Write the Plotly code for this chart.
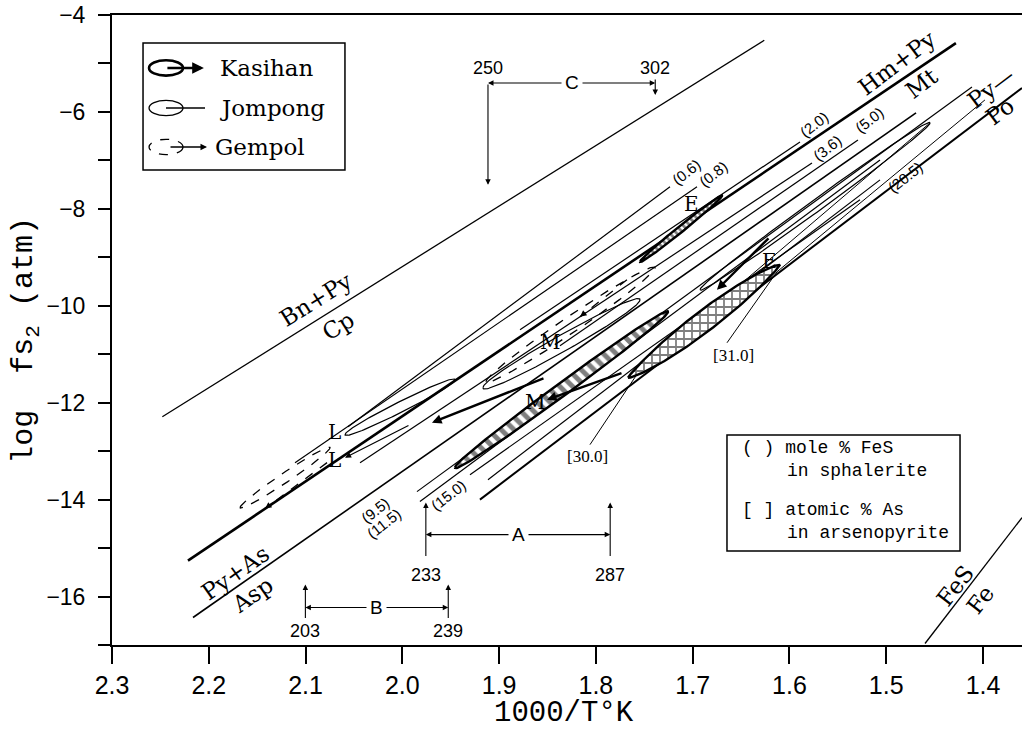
import numpy as np
import plotly.graph_objects as go

# ---------------- data (x = 1000/T(K), y = log fS2) ----------------
bnpy_x = [2.248, 1.626]
bnpy_y = [-12.29, -4.52]
hmpy_x = [2.2215, 1.428]
hmpy_y = [-15.26, -4.58]
asp_x = [2.2163, 1.4692]
asp_y = [-16.433, -6.021]
pypo_x = [1.9198, 1.3597]
pypo_y = [-14.0, -5.505]
fes_x = [1.4599, 1.3597]
fes_y = [-16.969, -14.371]

# sphalerite isopleths (mole % FeS)
iso_names = ["(0.6)", "(0.8)", "(2.0)", "(3.6)", "(5.0)", "(9.5)", "(11.5)", "(15.0)", "(20.5)"]
iso_x0 = [2.0561, 2.1109, 1.8784, 2.0437, 1.8371, 1.9849, 1.9818, 1.9301, 1.9115]
iso_y0 = [-12.495, -13.237, -10.495, -13.237, -10.825, -13.835, -14.041, -13.485, -13.588]
iso_x1 = [1.7234, 1.6955, 1.5891, 1.5767, 1.5292, 1.4114, 1.5064, 1.5271, 1.5064]
iso_y1 = [-7.546, -7.546, -6.619, -7.052, -6.577, -5.485, -6.990, -7.814, -7.402]
iso_lx = [1.7059, 1.678, 1.5746, 1.5602, 1.5168, 2.0282, 2.019, 1.9528, 1.4806]
iso_ly = [-7.237, -7.278, -6.268, -6.742, -6.165, -14.227, -14.495, -13.918, -7.361]

# arsenopyrite isopleths (atomic % As)
apy30_x = [1.8061, 1.7544, 1.4548]
apy30_y = [-12.866, -11.320, -6.227]
apy31_x = [1.6645, 1.6129, 1.398]
apy31_y = [-10.763, -9.299, -5.753]
apy_names = ["[30.0]", "[31.0]"]
apy_lx = [1.8082, 1.6583]
apy_ly = [-13.113, -11.031]

# fluid-inclusion fields (end points and half width)
kas_x0 = [1.9456, 1.7668, 1.7544]
kas_y0 = [-13.340, -11.485, -9.093]
kas_x1 = [1.7255, 1.6098, 1.6697]
kas_y1 = [-10.124, -9.155, -7.732]
kas_hw = [0.165, 0.27, 0.08]
jom_x0 = [2.0592, 1.9167, 1.6924]
jom_y0 = [-12.660, -11.691, -9.670]
jom_x1 = [1.9456, 1.7544, 1.4548]
jom_y1 = [-11.526, -9.876, -6.227]
jom_hw = [0.12, 0.19, 0.15]
gem_x0 = [2.1677, 1.9136]
gem_y0 = [-14.165, -11.567]
gem_x1 = [2.0747, 1.7389]
gem_y1 = [-12.928, -9.216]
gem_hw = [0.12, 0.2]

# trend arrows (tail -> head)
kar_tx = [1.772, 1.8526, 1.6201]
kar_ty = [-11.381, -11.485, -8.577]
kar_hx = [1.8505, 1.9694, 1.6749]
kar_hy = [-11.938, -12.412, -9.670]
jar_tx = [1.9921]
jar_ty = [-12.454]
jar_hx = [2.0592]
jar_hy = [-13.134]
gar_tx = [2.0778, 1.7679]
gar_ty = [-13.237, -9.464]
gar_hx = [2.1419, 1.8164]
gar_hy = [-14.186, -10.227]

# temperature ranges (deg C)
rng_names = ["A", "B", "C"]
rng_t0 = [233, 203, 250]
rng_t1 = [287, 239, 302]
rng_bar_y = [-14.722, -16.227, -5.402]
rng_v0_tail = [-15.196, -16.474, -5.402]
rng_v0_head = [-14.062, -15.753, -7.505]
rng_v1_tail = [-15.196, -16.474, -5.30]
rng_v1_head = [-14.062, -15.753, -5.65]
rng_lab_y = [-15.55, -16.72, -5.09]

# field labels
reg_text = ["Bn+Py", "Cp", "Hm+Py", "Mt", "Py—", "Po", "Py+As", "Asp", "FeS", "Fe"]
reg_x = [2.0902, 2.0665, 1.4889, 1.463, 1.392, 1.382, 2.1729, 2.1553, 1.429, 1.4031]
reg_y = [-9.876, -10.412, -4.990, -5.402, -5.50, -5.99, -15.505, -15.959, -15.773, -16.062]
reg_ang = [-32, -32, -37, -37, -37, -37, -35, -35, -52, -52]

pt_text = ["E", "E", "M", "M", "L", "L"]
pt_x = [1.7007, 1.6211, 1.8474, 1.8629, 2.0696, 2.0696]
pt_y = [-7.897, -9.072, -10.742, -11.979, -12.598, -13.175]

x_ticks = [2.3, 2.2, 2.1, 2.0, 1.9, 1.8, 1.7, 1.6, 1.5, 1.4]
y_ticks = [-16, -14, -12, -10, -8, -6, -4]
y_minor = [-17, -15, -13, -11, -9, -7, -5]

SERIF = "DejaVu Serif"
SANS = "Liberation Sans"
MONO = "Liberation Mono"

fig = go.Figure()


def add_line(x, y, width=1.3, dash="solid"):
    fig.add_trace(go.Scatter(x=x, y=y, mode="lines",
                             line=dict(color="black", width=width, dash=dash),
                             hoverinfo="skip", showlegend=False))


def lens(x0, y0, x1, y1, hw, n=90, p=1.0):
    t = np.linspace(0, np.pi, n)
    u = (1 - np.cos(t)) / 2
    w = hw * np.sin(t) ** p
    xs = x0 + (x1 - x0) * u
    ys = y0 + (y1 - y0) * u
    X = np.concatenate([xs, xs[::-1], xs[:1]])
    Y = np.concatenate([ys + w, (ys - w)[::-1], ys[:1] + w[:1]])
    return X, Y


def arrow(xh, yh, xt, yt, width=1.2, size=1.0, head=2):
    fig.add_annotation(x=xh, y=yh, ax=xt, ay=yt, xref="x", yref="y",
                       axref="x", ayref="y", text="", showarrow=True,
                       arrowhead=head, arrowsize=size, arrowwidth=width,
                       arrowcolor="black")


def label(x, y, text, font, angle=0, xanchor="center", ref="data", **kw):
    extra = {} if ref == "data" else dict(xref="paper", yref="paper")
    fig.add_annotation(x=x, y=y, text=text, showarrow=False, textangle=angle,
                       xanchor=xanchor, yanchor="middle", font=font, **extra, **kw)


# boundary lines
add_line(bnpy_x, bnpy_y, 1.3)
add_line(hmpy_x, hmpy_y, 2.6)
add_line(asp_x, asp_y, 1.6)
add_line(pypo_x, pypo_y, 2.0)
add_line(fes_x, fes_y, 1.3)

for i in range(len(iso_names)):
    add_line([iso_x0[i], iso_x1[i]], [iso_y0[i], iso_y1[i]], 1.2)
    label(iso_lx[i], iso_ly[i], iso_names[i],
          dict(family=SANS, size=15, color="black"), angle=-38)

add_line(apy30_x, apy30_y, 1.0)
add_line(apy31_x, apy31_y, 1.0)
for i in range(2):
    label(apy_lx[i], apy_ly[i], apy_names[i],
          dict(family="Liberation Serif", size=17, color="black"))

# Jompong fields (thin solid)
for i in range(len(jom_x0)):
    X, Y = lens(jom_x0[i], jom_y0[i], jom_x1[i], jom_y1[i], jom_hw[i], p=0.9)
    add_line(X, Y, 1.2)

# Gempol fields (dashed)
for i in range(len(gem_x0)):
    X, Y = lens(gem_x0[i], gem_y0[i], gem_x1[i], gem_y1[i], gem_hw[i])
    add_line(X, Y, 1.3, "dash")

# Kasihan fields (thick, hatched)
kas_pat = [dict(shape="\\", size=9, solidity=0.55),
           dict(shape="+", size=8, solidity=0.4),
           dict(shape="\\", size=5, solidity=0.55)]
kas_p = [0.9, 1.5, 1.0]
for i in range(len(kas_x0)):
    X, Y = lens(kas_x0[i], kas_y0[i], kas_x1[i], kas_y1[i], kas_hw[i], p=kas_p[i])
    pat = dict(fgcolor="black", bgcolor="white", **kas_pat[i])
    fig.add_trace(go.Scatter(x=X, y=Y, mode="lines", fill="toself",
                             fillcolor="white", fillpattern=pat,
                             line=dict(color="black", width=2.4),
                             hoverinfo="skip", showlegend=False))

# trend arrows
for i in range(len(kar_tx)):
    arrow(kar_hx[i], kar_hy[i], kar_tx[i], kar_ty[i], width=2.4, size=0.8)
for i in range(len(jar_tx)):
    arrow(jar_hx[i], jar_hy[i], jar_tx[i], jar_ty[i], width=1.2, size=1.0)
for i in range(len(gar_tx)):
    add_line([gar_tx[i], gar_hx[i]], [gar_ty[i], gar_hy[i]], 1.3, "dash")
    arrow(gar_hx[i], gar_hy[i],
          gar_hx[i] + 0.15 * (gar_tx[i] - gar_hx[i]),
          gar_hy[i] + 0.15 * (gar_ty[i] - gar_hy[i]), width=1.3, size=1.0)

# temperature ranges
for i in range(3):
    xa = 1000.0 / (rng_t0[i] + 273.15)
    xb = 1000.0 / (rng_t1[i] + 273.15)
    xm = (xa + xb) / 2
    yb = rng_bar_y[i]
    arrow(xa, yb, xm, yb, width=1.1, size=1.0)
    arrow(xb, yb, xm, yb, width=1.1, size=1.0)
    arrow(xa, rng_v0_head[i], xa, rng_v0_tail[i], width=1.1, size=1.0)
    arrow(xb, rng_v1_head[i], xb, rng_v1_tail[i], width=1.1, size=1.0)
    label(xm, yb, rng_names[i], dict(family=SANS, size=19, color="black"),
          bgcolor="white", borderpad=3)
    label(xa, rng_lab_y[i], str(rng_t0[i]), dict(family=SANS, size=18, color="black"))
    label(xb, rng_lab_y[i], str(rng_t1[i]), dict(family=SANS, size=18, color="black"))

# field labels
for i in range(len(reg_text)):
    label(reg_x[i], reg_y[i], reg_text[i], dict(family=SERIF, size=23, color="black"),
          angle=reg_ang[i])
for i in range(len(pt_text)):
    label(pt_x[i], pt_y[i], pt_text[i], dict(family=SERIF, size=20, color="black"))

# ---------------- legend box (top-left) ----------------
fig.add_shape(type="rect", xref="paper", yref="paper", x0=0.0341, x1=0.256,
              y0=0.754, y1=0.9556, line=dict(color="black", width=1.5),
              fillcolor="white", layer="above")
leg_names = ["Kasihan", "Jompong", "Gempol"]
leg_y = [0.9159, 0.8524, 0.7905]
leg_tx = [0.1165, 0.1165, 0.111]
leg_w = [2.6, 1.3, 1.3]
leg_dash = ["solid", "solid", "dash"]
for i in range(3):
    fig.add_shape(type="circle", xref="paper", yref="paper", x0=0.0407, x1=0.078,
                  y0=leg_y[i] - 0.0122, y1=leg_y[i] + 0.0122,
                  line=dict(color="black", width=leg_w[i], dash=leg_dash[i]), layer="above")
    if i == 1:
        fig.add_shape(type="line", xref="paper", yref="paper", x0=0.0593, x1=0.1022,
                      y0=leg_y[i], y1=leg_y[i], line=dict(color="black", width=1.3),
                      layer="above")
    else:
        fig.add_annotation(x=0.101 if i == 0 else 0.1044, y=leg_y[i], xref="paper",
                           yref="paper", ax=-38, ay=0, text="", showarrow=True,
                           arrowhead=2, arrowsize=0.9 if i == 0 else 1.0,
                           arrowwidth=leg_w[i], arrowcolor="black")
    label(leg_tx[i], leg_y[i], leg_names[i], dict(family=SERIF, size=23, color="black"),
          xanchor="left", ref="paper")

# ---------------- key box (lower right) ----------------
fig.add_shape(type="rect", xref="paper", yref="paper", x0=0.6758, x1=0.9319,
              y0=0.1492, y1=0.3333, line=dict(color="black", width=1.5),
              fillcolor="white", layer="above")
key_text = ["( ) mole % FeS", "in sphalerite", "[ ] atomic % As", "in arsenopyrite"]
key_x = [0.6901, 0.7396, 0.6901, 0.7396]
key_y = [0.3127, 0.2762, 0.2143, 0.1778]
for i in range(4):
    label(key_x[i], key_y[i], key_text[i], dict(family=MONO, size=18, color="black"),
          xanchor="left", ref="paper")

# axis titles
label(0.497, -0.108, "1000/T°K", dict(family=MONO, size=29, color="black"), ref="paper")
label(-0.0945, 0.483, "log  fs<sub>2</sub> (atm)", dict(family=MONO, size=30, color="black"),
      angle=-90, ref="paper")

fig.update_xaxes(range=[2.3, 1.3597], tickvals=x_ticks,
                 ticktext=["%.1f" % v for v in x_ticks],
                 ticks="outside", ticklen=17, tickwidth=1.5, tickcolor="black",
                 showline=True, linecolor="black", linewidth=2, mirror=True,
                 showgrid=False, zeroline=False, ticklabelstandoff=0,
                 tickfont=dict(family=SANS, size=25, color="black"))
fig.update_yaxes(range=[-17, -4], tickvals=y_ticks,
                 ticks="outside", ticklen=12, tickwidth=1.5, tickcolor="black",
                 minor=dict(tickvals=y_minor, ticks="outside", ticklen=12,
                            tickwidth=1.5, tickcolor="black"),
                 showline=True, linecolor="black", linewidth=2, mirror=False,
                 showgrid=False, zeroline=False, ticklabelstandoff=8,
                 tickfont=dict(family=SANS, size=23, color="black"))

fig.update_layout(width=1022, height=731,
                  margin=dict(l=112, r=0, t=15, b=86),
                  paper_bgcolor="white", plot_bgcolor="white",
                  showlegend=False)

fig.write_html("out.html")
